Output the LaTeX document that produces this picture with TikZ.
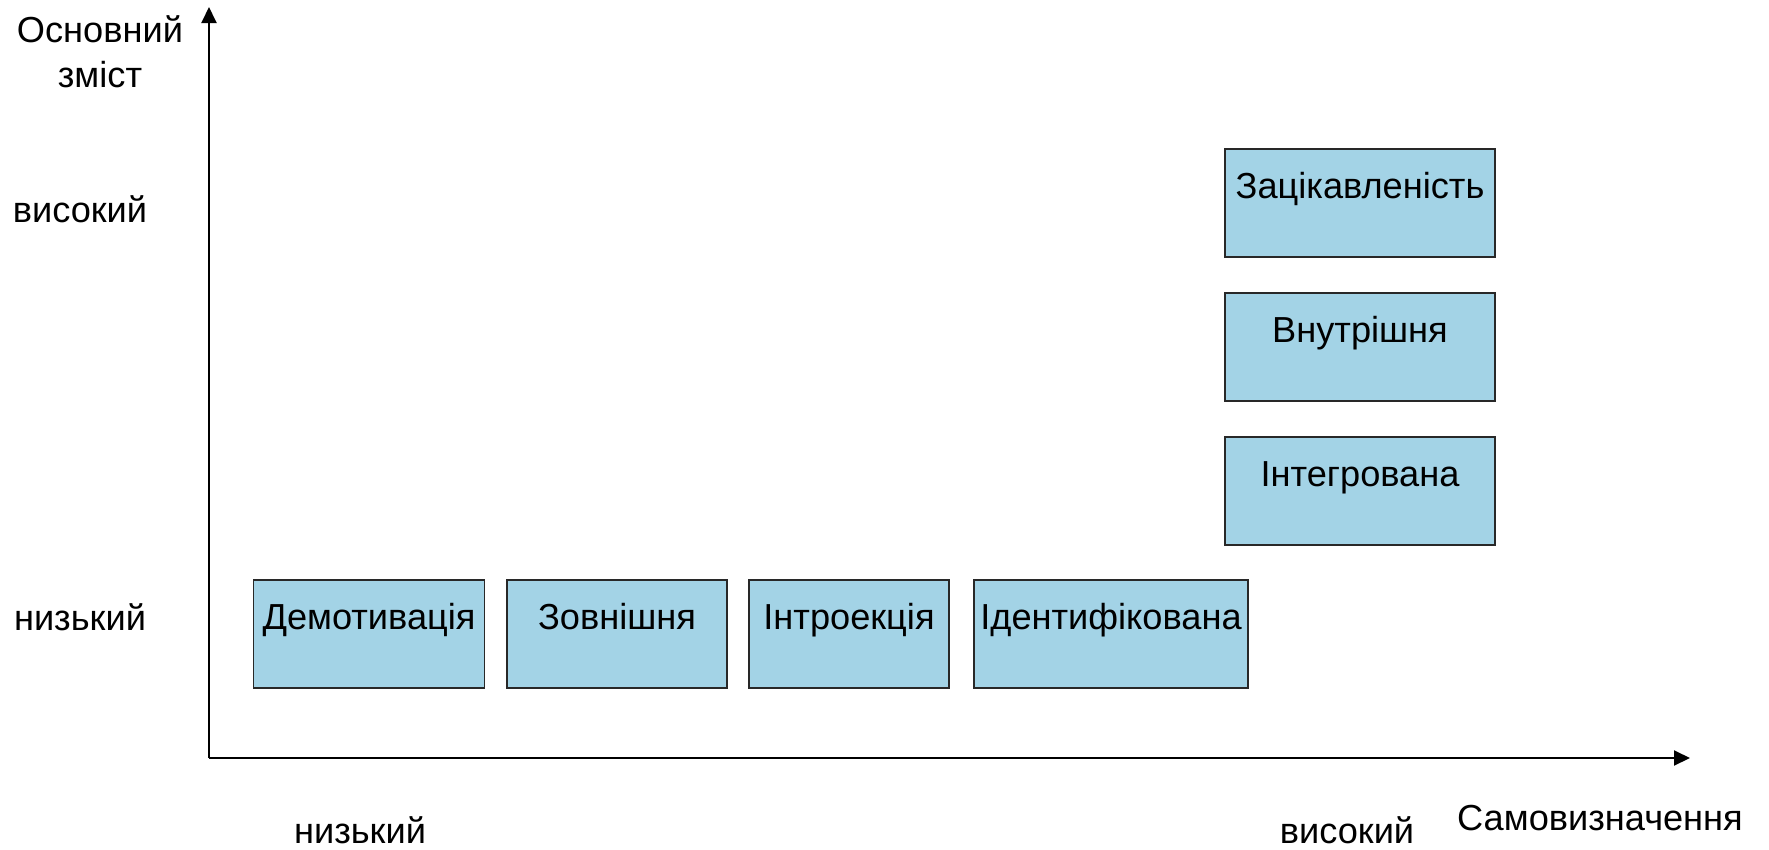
\documentclass[tikz,border=0pt]{standalone}
\usepackage{fontspec}
\setmainfont{Liberation Sans}
\usepackage{tikz}
\usetikzlibrary{arrows.meta,positioning}
\usepackage{xcolor}
\definecolor{mtblue}{RGB}{163,211,230}
\definecolor{mtedge}{RGB}{40,40,40}
\tikzstyle{axis} = [line width=1.1pt,-{Triangle[length=0.32cm,width=0.3cm]},color=black]
\tikzstyle{motbox} = [rectangle, minimum width=5cm, inner sep=0pt, text height=0.98cm, text depth=1.18cm, text centered, draw=mtedge, fill=mtblue, line width=0.6pt, font=\fontsize{20.6}{24.7}\selectfont]
\tikzstyle{axlabel} = [inner sep=0pt, anchor=base, font=\fontsize{20.6}{25.5}\selectfont]

\begin{document}
\begin{tikzpicture}[x=0.02cm, y=-0.02cm]
\useasboundingbox (0,0) rectangle (1769,849);

% Axes
\coordinate (origin) at (209,758);
\coordinate (ytip) at (209,7);
\coordinate (xtip) at (1690,758);
\draw[axis] (origin) -- (ytip);
\draw[axis] (origin) -- (xtip);

% Axis labels
\node[axlabel, align=center] (ytitle) at (100,87) {Основний\\зміст};
\node[axlabel] (yhigh) at (80,222) {високий};
\node[axlabel] (ylow) at (80,630) {низький};
\node[axlabel] (xlow) at (360,843) {низький};
\node[axlabel] (xhigh) at (1347,843) {високий};
\node[axlabel] (xtitle) at (1600,830) {Самовизначення};

% Low row
\node[motbox, minimum width=231*0.02cm] (demot) at (369,634) {Демотивація};
\node[motbox, minimum width=220*0.02cm] (extern) at (617,634) {Зовнішня};
\node[motbox, minimum width=200*0.02cm] (introj) at (849,634) {Інтроекція};
\node[motbox, minimum width=274*0.02cm] (ident) at (1111,634) {Ідентифікована};

% High column
\node[motbox, minimum width=270*0.02cm] (integr) at (1360,491) {Інтегрована};
\node[motbox, minimum width=270*0.02cm] (intern) at (1360,347) {Внутрішня};
\node[motbox, minimum width=270*0.02cm] (interest) at (1360,203) {Зацікавленість};
\end{tikzpicture}
\end{document}
